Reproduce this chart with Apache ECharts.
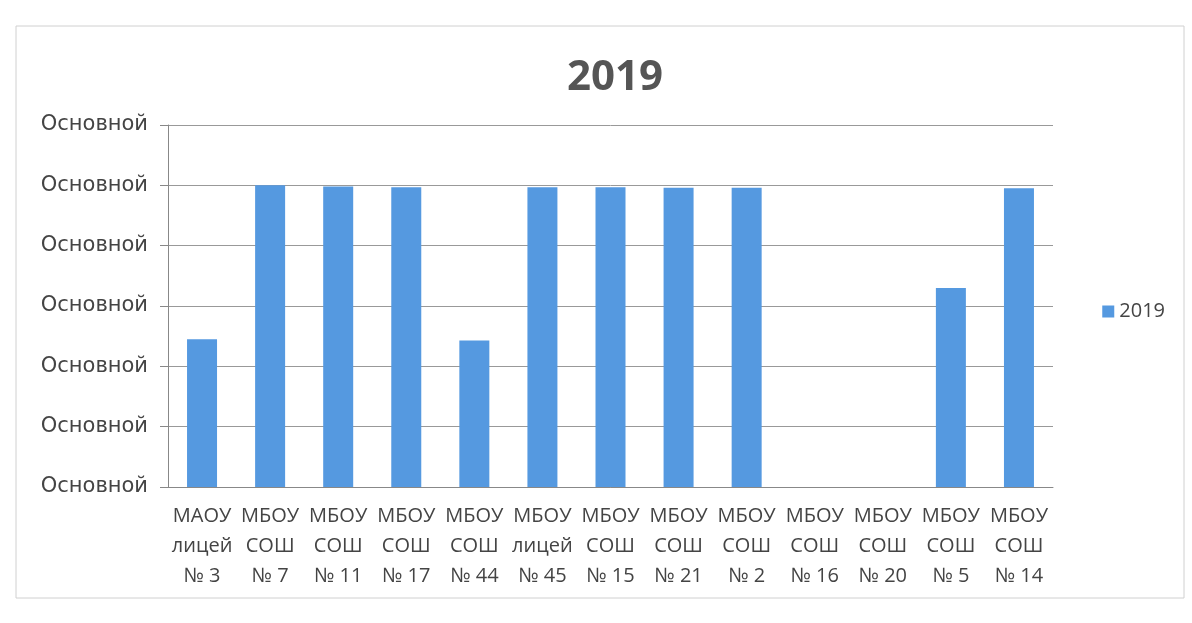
<!DOCTYPE html>
<html>
<head>
<meta charset="utf-8">
<script src="https://cdn.jsdelivr.net/npm/echarts@6/dist/echarts.min.js"></script>
<style>html,body{margin:0;padding:0;background:#fff;}#c{width:1192px;height:623px;}</style>
</head>
<body>
<div id="c"></div>
<script>
var categories = ['МАОУ\nлицей\n№ 3','МБОУ\nСОШ\n№ 7','МБОУ\nСОШ\n№ 11','МБОУ\nСОШ\n№ 17','МБОУ\nСОШ\n№ 44','МБОУ\nлицей\n№ 45','МБОУ\nСОШ\n№ 15','МБОУ\nСОШ\n№ 21','МБОУ\nСОШ\n№ 2','МБОУ\nСОШ\n№ 16','МБОУ\nСОШ\n№ 20','МБОУ\nСОШ\n№ 5','МБОУ\nСОШ\n№ 14'];
var values2019 = [2.45, 5.0, 4.98, 4.97, 2.43, 4.97, 4.97, 4.96, 4.96, 0, 0, 3.3, 4.95];
var yTickLabel = 'Основной';
var seriesName = '2019';
var titleText = '2019';

var chart = echarts.init(document.getElementById('c'));
chart.setOption({
  backgroundColor: '#fff',
  animation: false,
  title: {
    text: titleText, left: 562, top: 52,
    textStyle: {fontFamily: 'Open Sans', fontWeight: 'bold', fontSize: 42, color: '#555'}
  },
  legend: {
    right: 22, top: 'middle', orient: 'vertical',
    itemWidth: 12, itemHeight: 12, itemGap: 6,
    icon: 'rect',
    textStyle: {fontFamily: 'Open Sans', fontSize: 20, color: '#444'},
    data: [seriesName]
  },
  grid: {left: 168, right: 139, top: 125, bottom: 136, containLabel: false},
  xAxis: {
    type: 'category', data: categories,
    axisLine: {lineStyle: {color: '#888'}},
    axisTick: {show: false},
    axisLabel: {interval: 0, fontFamily: 'Open Sans', fontSize: 20, color: '#444', lineHeight: 30, margin: 14}
  },
  yAxis: {
    type: 'value', min: 0, max: 6, interval: 1,
    axisLine: {show: true, lineStyle: {color: '#888'}},
    axisTick: {show: true, length: 8, lineStyle: {color: '#888'}},
    splitLine: {lineStyle: {color: '#999', width: 1}},
    axisLabel: {formatter: function(){return yTickLabel;}, fontFamily: 'DejaVu Sans', fontSize: 21, color: '#444', margin: 20}
  },
  graphic: [{
    type: 'rect', shape: {x: 16, y: 26, width: 1168, height: 572},
    style: {fill: 'none', stroke: '#d0d0d0', lineWidth: 1}, z: -1
  }],
  series: [{
    name: seriesName, type: 'bar', data: values2019, barWidth: 30,
    itemStyle: {color: '#5599E0'}
  }]
});
</script>
</body>
</html>
